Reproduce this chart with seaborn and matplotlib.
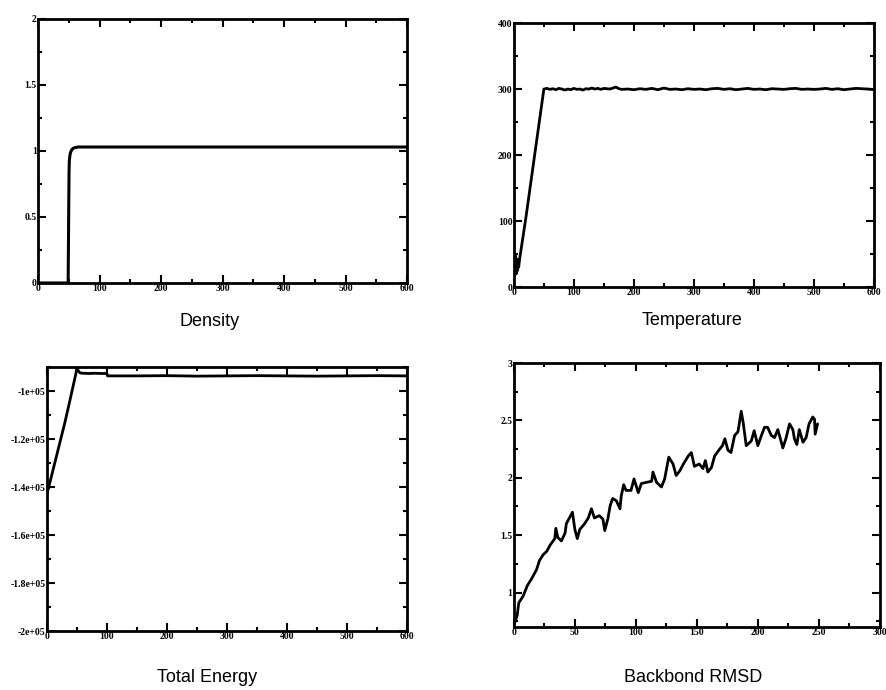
import numpy as np
import matplotlib
matplotlib.use("Agg")
import matplotlib.pyplot as plt
import seaborn as sns
from matplotlib.ticker import MultipleLocator

# --- data ---
density_t = [0, 49, 49.5, 50, 50.5, 51, 52, 53, 55, 57, 60, 65, 70, 100, 200, 300, 400, 500, 600]
density_v = [0, 0, 0.3, 0.6, 0.85, 0.93, 0.97, 0.99, 1.01, 1.02, 1.025, 1.03, 1.03, 1.03, 1.03, 1.03, 1.03, 1.03, 1.03]

temp_t = [0, 1, 2, 3, 4, 5, 6, 7, 8, 9, 10, 20, 30, 40, 50,
          55, 60, 65, 70, 75, 80, 85, 90, 95, 100, 105, 110, 115, 120, 125, 130, 135, 140, 145,
          150, 160, 170, 175, 180, 190, 200, 210, 220, 230, 240, 250, 260, 270, 280, 290, 300,
          310, 320, 330, 340, 350, 360, 370, 380, 390, 400, 410, 420, 430, 440, 450, 460, 470,
          480, 490, 500, 510, 520, 530, 540, 550, 560, 570, 580, 590, 600]
temp_v = [15, 40, 22, 48, 20, 35, 25, 42, 30, 38, 45, 105, 170, 235, 300,
          301, 299.5, 300.5, 299, 301, 300, 298.5, 300, 299, 301, 299.5, 300, 298.5, 300.5,
          300, 301.5, 300, 301, 299.5, 301, 300, 303, 300.5, 299.5, 300, 299, 300.5, 299.5,
          301, 299, 301.5, 299.5, 300, 299, 300.5, 299.5, 300, 299, 300.5, 301, 299.5, 300.5,
          299, 300, 301, 299.5, 300, 299, 300.5, 300, 299.5, 300.5, 301, 299.5, 300, 299.5,
          300, 301, 299.5, 300.5, 299, 300, 301, 300.5, 300, 299]

energy_t = [0, 1, 2, 10, 20, 30, 40, 48, 50, 52, 54, 56, 60, 70, 80, 90, 100, 101,
            150, 200, 250, 300, 350, 400, 450, 500, 550, 600]
energy_v = [-1.43e5, -1.40e5, -1.41e5, -1.33e5, -1.23e5, -1.13e5, -1.02e5, -0.93e5, -0.90e5,
            -0.915e5, -0.922e5, -0.925e5, -0.926e5, -0.927e5, -0.926e5, -0.927e5, -0.927e5, -0.937e5,
            -0.937e5, -0.936e5, -0.938e5, -0.937e5, -0.936e5, -0.937e5, -0.938e5, -0.937e5, -0.936e5, -0.937e5]
energy_ticks = [-2e5, -1.8e5, -1.6e5, -1.4e5, -1.2e5, -1e5]
energy_labels = ["-2e+05", "-1.8e+05", "-1.6e+05", "-1.4e+05", "-1.2e+05", "-1e+05"]

rmsd_t = [0.8, 2.7, 4, 7.6, 11, 14.5, 18.6, 21, 24, 27, 29.5, 33.5, 34.4, 36, 39, 42, 43, 48,
          50, 52, 54, 58, 61, 63.6, 66, 70, 73, 74.5, 77, 79, 81, 84, 87, 88, 90, 92, 96, 98.5,
          102, 104.5, 108.6, 113, 114, 117, 121, 123.6, 127, 130.5, 133, 136, 139.5, 143, 145.5,
          148, 152, 155, 157, 159, 162, 164.6, 168.7, 171, 173, 175.5, 178, 181, 183.7, 186.4,
          188, 190.5, 194.6, 197, 200, 203, 205.5, 208, 211, 213.7, 216.4, 219, 220.5, 223, 226,
          228.7, 230, 232, 234, 237, 239.6, 242, 245, 246.5, 247, 249]
rmsd_v = [0.74, 0.80, 0.91, 0.97, 1.06, 1.12, 1.20, 1.28, 1.33, 1.36, 1.41, 1.47, 1.56, 1.48,
          1.45, 1.52, 1.60, 1.70, 1.55, 1.47, 1.55, 1.60, 1.65, 1.73, 1.65, 1.67, 1.64, 1.54,
          1.64, 1.76, 1.82, 1.80, 1.73, 1.84, 1.94, 1.89, 1.89, 1.99, 1.87, 1.95, 1.96, 1.97,
          2.05, 1.96, 1.92, 1.99, 2.18, 2.12, 2.02, 2.06, 2.13, 2.19, 2.22, 2.10, 2.12, 2.08,
          2.15, 2.05, 2.09, 2.19, 2.25, 2.28, 2.34, 2.24, 2.22, 2.37, 2.40, 2.58, 2.48, 2.28,
          2.32, 2.41, 2.28, 2.37, 2.44, 2.44, 2.37, 2.35, 2.42, 2.32, 2.26, 2.34, 2.47, 2.42,
          2.34, 2.29, 2.42, 2.31, 2.35, 2.47, 2.53, 2.51, 2.38, 2.47]

sns.set_style("ticks")
plt.rcParams["font.family"] = ["Liberation Serif", "DejaVu Serif"]

fig = plt.figure(figsize=(8.86, 6.9), dpi=100)


def style_axes(ax, xmaj, xmin, ymaj, ymin):
    for s in ax.spines.values():
        s.set_linewidth(2.0)
        s.set_color("black")
    ax.xaxis.set_major_locator(MultipleLocator(xmaj))
    ax.xaxis.set_minor_locator(MultipleLocator(xmin))
    if ymaj is not None:
        ax.yaxis.set_major_locator(MultipleLocator(ymaj))
    ax.yaxis.set_minor_locator(MultipleLocator(ymin))
    ax.tick_params(which="both", direction="in", top=True, right=True,
                   width=1.5, colors="black", labelsize=7, pad=1)
    ax.tick_params(which="major", length=6)
    ax.tick_params(which="minor", length=3)
    for lab in ax.get_xticklabels() + ax.get_yticklabels():
        lab.set_fontweight("bold")
    ax.set_xlabel("")
    ax.set_ylabel("")


# Density
ax1 = fig.add_axes([0.0429, 0.5899, 0.4165, 0.3826])
sns.lineplot(x=density_t, y=density_v, ax=ax1, color="black", linewidth=2.2)
ax1.set_xlim(0, 600)
ax1.set_ylim(0, 2)
ax1.set_yticks([0, 0.5, 1, 1.5, 2], ["0", "0.5", "1", "1.5", "2"])
style_axes(ax1, 100, 50, None, 0.25)

# Temperature
ax2 = fig.add_axes([0.580, 0.584, 0.4063, 0.3826])
sns.lineplot(x=temp_t, y=temp_v, ax=ax2, color="black", linewidth=2.0)
ax2.set_xlim(0, 600)
ax2.set_ylim(0, 400)
style_axes(ax2, 100, 50, 100, 50)

# Total energy
ax3 = fig.add_axes([0.053, 0.0855, 0.4063, 0.3826])
sns.lineplot(x=energy_t, y=energy_v, ax=ax3, color="black", linewidth=2.0)
ax3.set_xlim(0, 600)
ax3.set_ylim(-2e5, -0.9e5)
ax3.set_yticks(energy_ticks, energy_labels)
style_axes(ax3, 100, 50, None, 0.1e5)

# Backbone RMSD
ax4 = fig.add_axes([0.580, 0.0913, 0.413, 0.3826])
sns.lineplot(x=rmsd_t, y=rmsd_v, ax=ax4, color="black", linewidth=2.0)
ax4.set_xlim(0, 300)
ax4.set_ylim(0.7, 3)
ax4.set_yticks([1, 1.5, 2, 2.5, 3], ["1", "1.5", "2", "2.5", "3"])
style_axes(ax4, 50, 25, None, 0.25)

title_font = dict(family=["Liberation Sans", "DejaVu Sans"], fontsize=13,
                  ha="center", va="center", color="black")
fig.text(210 / 886, 1 - 322 / 690, "Density", **title_font)
fig.text(692 / 886, 1 - 320 / 690, "Temperature", **title_font)
fig.text(207 / 886, 1 - 678 / 690, "Total Energy", **title_font)
fig.text(693 / 886, 1 - 677 / 690, "Backbond RMSD", **title_font)

fig.savefig("out.png", dpi=100)
